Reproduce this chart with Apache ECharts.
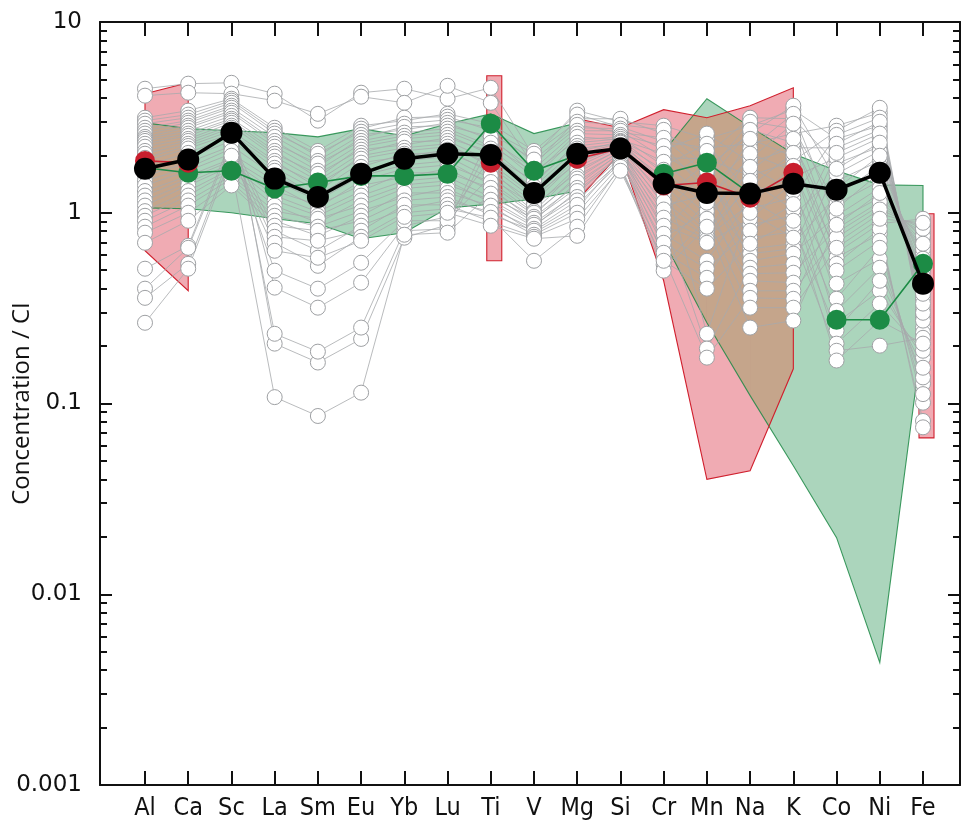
<!DOCTYPE html>
<html>
<head>
<meta charset="utf-8">
<script src="https://cdn.jsdelivr.net/npm/echarts@6/dist/echarts.min.js"></script>
<style>
html,body{margin:0;padding:0;background:#fff;}
#chart{width:961px;height:823px;}
</style>
</head>
<body>
<div id="chart"></div>
<script>
const elements = ['Al','Ca','Sc','La','Sm','Eu','Yb','Lu','Ti','V','Mg','Si','Cr','Mn','Na','K','Co','Ni','Fe'];
const yTickLabels = ['0.001','0.01','0.1','1','10'];

// Individual samples: values of each element, listed from highest to lowest
const valAl = [4.47,4.11,3.15,3.04,2.93,2.79,2.69,2.60,2.50,2.44,2.38,2.30,2.22,2.11,2.04,1.94,1.87,1.76,1.66,1.56,1.47,1.39,1.30,1.23,1.16,1.09,1.02,0.964,0.908,0.845,0.786,0.696,0.509,0.400,0.358,0.265];
const valCa = [4.75,4.26,3.43,3.27,3.15,3.04,2.96,2.86,2.79,2.69,2.60,2.53,2.44,2.38,2.30,2.24,2.17,2.06,1.94,1.83,1.72,1.66,1.56,1.51,1.44,1.39,1.30,1.23,1.16,1.09,1.00,0.908,0.671,0.655,0.540,0.509];
const valSc = [4.80,4.21,3.96,3.87,3.77,3.64,3.55,3.43,3.34,3.22,3.11,3.04,2.96,2.86,2.79,2.69,2.60,2.53,2.44,2.38,2.30,2.24,2.17,2.11,2.04,1.99,1.92,1.87,1.81,1.76,1.70,1.66,1.56,1.51,1.44,1.39];
const valLa = [4.21,3.87,2.79,2.69,2.60,2.50,2.38,2.30,2.22,2.11,2.04,1.97,1.87,1.81,1.72,1.66,1.56,1.47,1.39,1.30,1.23,1.16,1.09,1.02,0.964,0.908,0.855,0.805,0.748,0.696,0.632,0.497,0.405,0.232,0.206,0.108];
const valSm = [3.30,3.04,2.11,2.04,1.97,1.87,1.81,1.74,1.66,1.60,1.53,1.47,1.42,1.35,1.30,1.24,1.20,1.16,1.10,1.06,1.01,0.964,0.930,0.886,0.845,0.805,0.757,0.713,0.632,0.581,0.527,0.400,0.318,0.187,0.164,0.086];
const valEu = [4.26,4.06,2.86,2.76,2.66,2.56,2.47,2.38,2.30,2.22,2.14,2.06,1.99,1.92,1.83,1.74,1.66,1.56,1.47,1.39,1.30,1.23,1.16,1.09,1.02,0.964,0.908,0.855,0.805,0.748,0.713,0.547,0.430,0.250,0.218,0.114];
const valYb = [4.47,3.77,3.15,3.04,2.93,2.82,2.72,2.63,2.53,2.44,2.36,2.27,2.19,2.11,2.04,1.97,1.87,1.78,1.70,1.62,1.54,1.47,1.40,1.34,1.27,1.21,1.16,1.10,1.05,1.00,0.952,0.908,0.855,0.805,0.767,0.740];
const valLu = [4.63,3.96,3.30,3.19,3.07,2.96,2.86,2.76,2.66,2.56,2.47,2.38,2.30,2.22,2.14,2.06,1.97,1.87,1.78,1.70,1.62,1.54,1.47,1.40,1.34,1.27,1.21,1.16,1.10,1.05,1.00,0.952,0.908,0.865,0.824,0.786];
const valTi = [4.52,3.77,2.93,2.79,2.69,2.60,2.50,2.41,2.33,2.24,2.17,2.09,2.01,1.94,1.87,1.81,1.74,1.68,1.62,1.56,1.51,1.45,1.40,1.35,1.30,1.26,1.21,1.17,1.13,1.09,1.05,1.01,0.976,0.942,0.897,0.855];
const valV  = [2.11,2.04,1.97,1.90,1.83,1.76,1.70,1.64,1.58,1.53,1.47,1.42,1.37,1.32,1.27,1.23,1.18,1.14,1.10,1.06,1.02,1.00,0.976,0.952,0.930,0.908,0.886,0.865,0.845,0.824,0.805,0.786,0.767,0.748,0.731,0.560];
const valMg = [3.43,3.27,3.11,3.00,2.89,2.79,2.69,2.60,2.50,2.41,2.33,2.24,2.17,2.09,2.01,1.94,1.87,1.81,1.74,1.68,1.62,1.56,1.51,1.45,1.40,1.35,1.30,1.26,1.21,1.16,1.10,1.05,1.00,0.930,0.845,0.757];
const valSi = [3.11,3.00,2.89,2.82,2.76,2.69,2.63,2.56,2.50,2.44,2.41,2.38,2.36,2.33,2.30,2.27,2.24,2.22,2.19,2.17,2.14,2.11,2.09,2.06,2.04,2.01,1.99,1.97,1.94,1.92,1.87,1.83,1.78,1.74,1.70,1.66];
const valCr = [2.86,2.72,2.60,2.47,2.36,2.24,2.14,2.04,1.94,1.85,1.76,1.68,1.60,1.53,1.45,1.39,1.32,1.26,1.20,1.14,1.09,1.04,0.988,0.942,0.897,0.855,0.814,0.776,0.740,0.696,0.655,0.617,0.588,0.560,0.534,0.497];
const valMn = [2.60,2.44,2.30,2.19,2.11,2.01,1.92,1.83,1.74,1.66,1.58,1.51,1.44,1.37,1.30,1.24,1.18,1.13,1.08,1.02,0.976,0.930,0.886,0.845,0.805,0.776,0.748,0.722,0.696,0.560,0.509,0.456,0.400,0.232,0.194,0.174];
const valNa = [3.15,3.00,2.86,2.72,2.60,2.44,2.30,2.17,2.04,1.92,1.83,1.74,1.66,1.56,1.47,1.37,1.26,1.18,1.11,1.05,1.00,0.930,0.865,0.805,0.740,0.688,0.648,0.610,0.560,0.515,0.479,0.440,0.390,0.358,0.318,0.250];
const valK  = [3.64,3.47,3.30,3.11,2.93,2.76,2.60,2.44,2.33,2.19,2.06,1.97,1.87,1.76,1.66,1.54,1.44,1.30,1.20,1.11,1.04,0.964,0.908,0.855,0.795,0.740,0.688,0.648,0.610,0.540,0.485,0.430,0.390,0.354,0.318,0.272];
const valCo = [2.86,2.69,2.56,2.44,2.30,2.19,2.06,1.94,1.81,1.70,1.60,1.47,1.34,1.23,1.11,1.05,0.964,0.908,0.865,0.824,0.786,0.740,0.696,0.655,0.617,0.581,0.540,0.497,0.425,0.354,0.306,0.265,0.241,0.206,0.189,0.168];
const valNi = [3.55,3.34,3.15,3.00,2.86,2.72,2.60,2.47,2.33,2.22,2.11,1.99,1.87,1.76,1.62,1.47,1.35,1.27,1.20,1.14,1.09,1.04,0.988,0.930,0.876,0.824,0.776,0.713,0.655,0.574,0.515,0.440,0.390,0.334,0.272,0.201];
const valFe = [0.930,0.886,0.855,0.824,0.786,0.757,0.731,0.688,0.648,0.610,0.574,0.540,0.497,0.462,0.430,0.400,0.376,0.354,0.334,0.314,0.299,0.285,0.272,0.250,0.235,0.221,0.206,0.189,0.174,0.154,0.137,0.127,0.112,0.101,0.081,0.075];

// which sample holds each of the values above (same order)
const ordAl = [0,1,2,3,4,5,6,7,8,9,10,11,12,13,14,15,16,17,18,19,20,21,22,23,24,25,26,27,28,29,30,31,32,33,34,35];
const ordCa = [0,1,2,3,4,5,6,7,8,9,10,11,12,13,14,15,16,17,18,19,20,21,22,23,24,25,26,27,28,29,30,31,32,33,34,35];
const ordSc = [0,1,2,3,4,5,6,7,8,9,10,11,12,13,14,15,16,17,32,18,33,19,20,34,21,35,22,23,24,25,26,27,28,29,30,31];
const ordLa = [0,1,2,3,4,6,7,8,10,11,12,13,15,16,17,18,19,21,22,23,24,25,27,28,29,30,31,32,33,34,35,20,14,9,5,26];
const ordSm = [1,0,2,4,3,6,8,7,10,12,11,13,16,15,17,19,18,21,23,22,24,25,28,27,29,31,30,33,32,35,34,20,14,9,5,26];
const ordEu = [0,1,2,3,4,6,7,8,10,11,12,13,15,16,17,18,19,21,22,23,24,25,27,28,29,30,31,32,33,34,35,20,14,9,5,26];
const ordYb = [0,1,3,2,4,7,6,8,10,11,13,12,15,16,18,17,19,21,22,24,23,25,27,28,30,29,31,33,32,34,35,20,14,9,26,5];
const ordLu = [1,0,2,3,4,6,7,8,10,11,12,13,15,16,17,18,19,21,22,23,24,25,27,28,29,30,31,32,33,34,35,14,20,5,9,26];
const ordTi = [0,1,2,4,3,5,7,6,9,8,10,12,11,14,13,16,15,18,17,20,19,22,21,24,23,26,25,28,27,30,29,32,31,34,33,35];
const ordV  = [2,3,0,5,4,1,6,8,7,9,11,10,13,12,14,16,15,17,19,18,20,22,21,23,25,24,26,28,27,29,31,30,32,33,35,34];
const ordMg = [0,2,1,3,5,4,6,7,9,8,10,11,13,12,14,15,17,16,18,20,19,21,22,24,23,25,27,26,28,29,31,30,32,33,34,35];
const ordSi = [1,0,3,2,4,6,5,7,8,10,9,11,12,14,13,15,16,18,17,19,20,22,21,23,24,26,25,27,28,30,29,31,32,34,33,35];
const ordCr = [0,3,1,5,2,7,4,9,6,11,8,13,10,15,12,17,14,19,16,21,18,23,20,25,22,27,24,29,26,31,28,33,30,35,32,34];
const ordMn = [4,0,8,2,12,1,6,16,3,20,5,14,9,24,7,18,11,28,13,26,15,32,17,34,19,21,23,25,27,29,31,33,35,10,22,30];
const ordNa = [1,5,0,9,3,13,2,7,17,11,4,21,15,6,25,19,8,29,23,10,33,27,12,31,14,35,16,18,20,22,24,26,28,30,32,34];
const ordK  = [3,0,7,1,11,5,2,15,9,4,19,13,6,23,17,8,27,21,10,31,25,12,35,29,14,33,16,18,20,22,24,26,28,30,32,34];
const ordCo = [2,6,10,0,14,4,18,8,1,22,12,3,26,16,5,30,20,7,34,24,9,28,11,32,13,15,17,19,21,23,25,27,29,31,33,35];
const ordNi = [6,2,10,14,0,4,18,8,22,1,12,26,3,16,30,5,20,34,7,24,9,28,11,32,13,17,15,19,23,21,25,29,27,31,35,33];
const ordFe = [13,32,11,28,9,24,7,34,20,5,30,16,3,26,12,1,22,8,18,4,14,0,10,2,6,33,35,31,27,29,25,21,23,19,15,17];

// Group averages
const meanAll   = [1.70,1.90,2.63,1.51,1.21,1.60,1.92,2.04,2.01,1.27,2.04,2.17,1.42,1.27,1.26,1.42,1.32,1.62,0.425];
const meanRed   = [1.87,1.83,null,null,null,null,null,null,1.83,null,1.92,2.17,1.39,1.44,1.20,1.62,null,null,0.43];
const meanGreen = [1.72,1.62,1.66,1.34,1.44,1.56,1.56,1.60,2.93,1.66,2.00,null,1.60,1.83,1.26,null,0.275,0.275,0.54];

// Group ranges (upper / lower envelopes)
const redHi   = [4.21,4.80,null,null,null,null,null,null,5.23,null,3.11,2.79,3.47,3.15,3.64,4.52,null,null,0.988];
const redLo   = [0.632,0.390,null,null,null,null,null,null,0.560,null,1.16,2.06,0.44,0.040,0.0444,0.152,null,null,0.066];
const greenHi = [2.96,2.76,2.69,2.63,2.50,2.76,2.53,2.93,3.30,2.60,2.96,null,2.09,3.96,2.82,2.04,1.66,1.40,1.39];
const greenLo = [1.06,1.05,1.00,0.930,0.876,0.731,0.786,1.06,1.11,1.18,1.30,null,0.713,0.265,0.110,0.0472,0.0198,0.00438,0.235];

// ---- build sample table from the columns ----
const columns = [
  [valAl,ordAl],[valCa,ordCa],[valSc,ordSc],[valLa,ordLa],[valSm,ordSm],[valEu,ordEu],[valYb,ordYb],
  [valLu,ordLu],[valTi,ordTi],[valV,ordV],[valMg,ordMg],[valSi,ordSi],[valCr,ordCr],[valMn,ordMn],
  [valNa,ordNa],[valK,ordK],[valCo,ordCo],[valNi,ordNi],[valFe,ordFe]
];
const nSamples = valAl.length;
const samples = [];
for (let s = 0; s < nSamples; s++) samples.push(new Array(elements.length).fill(null));
columns.forEach(([vals, ord], e) => {
  vals.forEach((v, r) => { samples[ord[r]][e] = v; });
});

function toXY(arr) { return arr.map((v, i) => [i, v]); }
const has = (u, l, i) => u[i] != null && l[i] != null;

// polygons of one range band (filled, or outline only)
function bandShapes(api, upper, lower, fill, stroke) {
  const out = [];
  let seg = [];
  const flush = () => {
    if (!seg.length) return;
    let pts;
    if (seg.length === 1) {
      const i = seg[0];
      const pu = api.coord([i, upper[i]]);
      const pl = api.coord([i, lower[i]]);
      pts = [[pu[0] - 4, pu[1]], [pu[0] + 11, pu[1]], [pl[0] + 11, pl[1]], [pl[0] - 4, pl[1]]];
    } else {
      pts = seg.map(i => api.coord([i, upper[i]]))
        .concat(seg.slice().reverse().map(i => api.coord([i, lower[i]])));
    }
    out.push({ type: 'polygon', shape: { points: pts },
      style: { fill: fill || 'none', stroke: stroke || 'none', lineWidth: 1.1 } });
    seg = [];
  };
  for (let i = 0; i < upper.length; i++) { if (!has(upper, lower, i)) flush(); else seg.push(i); }
  flush();
  return out;
}

// region where both bands overlap (drawn in one solid tint)
function overlapShapes(api, fill) {
  const out = [];
  const lerp = (a, b, t) => a + (b - a) * t;
  for (let i = 0; i < elements.length - 1; i++) {
    if (!(has(redHi, redLo, i) && has(redHi, redLo, i + 1) && has(greenHi, greenLo, i) && has(greenHi, greenLo, i + 1))) continue;
    const rU0 = api.coord([i, redHi[i]]), rU1 = api.coord([i + 1, redHi[i + 1]]);
    const rL0 = api.coord([i, redLo[i]]), rL1 = api.coord([i + 1, redLo[i + 1]]);
    const gU0 = api.coord([i, greenHi[i]]), gU1 = api.coord([i + 1, greenHi[i + 1]]);
    const gL0 = api.coord([i, greenLo[i]]), gL1 = api.coord([i + 1, greenLo[i + 1]]);
    const N = 60, top = [], bot = [];
    for (let k = 0; k <= N; k++) {
      const t = k / N;
      const x = lerp(rU0[0], rU1[0], t);
      const yt = Math.max(lerp(rU0[1], rU1[1], t), lerp(gU0[1], gU1[1], t));
      let yb = Math.min(lerp(rL0[1], rL1[1], t), lerp(gL0[1], gL1[1], t));
      if (yb < yt) yb = yt;
      top.push([x, yt]); bot.push([x, yb]);
    }
    out.push({ type: 'polygon', shape: { points: top.concat(bot.reverse()) }, style: { fill: fill, stroke: 'none' } });
  }
  return out;
}

function bandsRenderer(params, api) {
  const children = []
    .concat(bandShapes(api, greenHi, greenLo, 'rgba(35,145,80,0.38)', null))
    .concat(bandShapes(api, redHi, redLo, 'rgba(215,35,55,0.38)', null))
    .concat(overlapShapes(api, '#c5a58b'))
    .concat(bandShapes(api, greenHi, greenLo, null, 'rgba(31,138,71,0.85)'))
    .concat(bandShapes(api, redHi, redLo, null, '#d0202e'));
  return { type: 'group', children: children };
}

// minor log ticks (2..9 in each decade), expressed in log10 units for the helper axes
const minorTicks = [];
for (let e = -3; e <= 0; e++) for (let k = 2; k <= 9; k++) minorTicks.push(e + Math.log10(k));
const catTicks = elements.map((_, i) => i);

const XMIN = -1.041, XMAX = 18.856;
const axisColor = '#111';
const textFont = '"Liberation Sans Narrow", "DejaVu Sans Condensed", "Open Sans", sans-serif';

const series = [];
series.push({
  type: 'custom', z: 1, silent: true, clip: false,
  renderItem: bandsRenderer,
  data: [[0, 1]]
});
samples.forEach((s) => {
  series.push({
    type: 'line', z: 2, silent: true, symbol: 'none',
    lineStyle: { color: '#a7a9ac', width: 0.8 },
    data: toXY(s)
  });
});
const allPts = [];
samples.forEach(s => s.forEach((v, i) => { if (v != null) allPts.push([i, v]); }));
series.push({
  type: 'scatter', z: 3, silent: true, symbol: 'circle', symbolSize: 15,
  itemStyle: { color: '#ffffff', borderColor: '#9ea0a3', borderWidth: 1, opacity: 1 },
  data: allPts
});
series.push({
  type: 'line', z: 4, silent: true, symbol: 'circle', symbolSize: 20, connectNulls: false,
  lineStyle: { color: '#1c8b45', width: 1.6 }, itemStyle: { color: '#1c8b45' },
  data: toXY(meanGreen)
});
series.push({
  type: 'line', z: 5, silent: true, symbol: 'circle', symbolSize: 20, connectNulls: false,
  lineStyle: { color: '#c81e2d', width: 1.6 }, itemStyle: { color: '#c81e2d' },
  data: toXY(meanRed)
});
series.push({
  type: 'line', z: 6, silent: true, symbol: 'circle', symbolSize: 22,
  lineStyle: { color: '#000', width: 3.5 }, itemStyle: { color: '#000' },
  data: toXY(meanAll)
});

const xBase = {
  type: 'value', min: XMIN, max: XMAX,
  splitLine: { show: false },
  axisLine: { show: true, onZero: false, lineStyle: { color: axisColor, width: 2 } },
  axisTick: { show: true, inside: true, length: 14, customValues: catTicks, lineStyle: { color: axisColor, width: 2 } }
};

const option = {
  backgroundColor: '#ffffff',
  animation: false,
  grid: { left: 100, right: 1, top: 22, bottom: 38, containLabel: false, outerBoundsMode: 'none' },
  xAxis: [
    Object.assign({}, xBase, {
      position: 'bottom',
      axisLabel: {
        show: true, customValues: catTicks, margin: 11,
        formatter: v => elements[Math.round(v)],
        fontSize: 25, color: '#111', fontFamily: textFont
      }
    }),
    Object.assign({}, xBase, { position: 'top', axisLabel: { show: false } })
  ],
  yAxis: [
    {
      type: 'log', logBase: 10, min: 0.001, max: 10, position: 'left',
      name: 'Concentration / CI', nameLocation: 'middle', nameGap: 66, nameMoveOverlap: false,
      nameTextStyle: { fontSize: 24, color: '#111', fontFamily: '"Open Sans", "Noto Sans", sans-serif' },
      splitLine: { show: false },
      axisLine: { show: true, onZero: false, lineStyle: { color: axisColor, width: 2 } },
      axisTick: { show: true, inside: true, length: 12, lineStyle: { color: axisColor, width: 2 } },
      axisLabel: {
        margin: 18, fontSize: 23, color: '#111', fontFamily: '"DejaVu Sans", sans-serif',
        formatter: v => yTickLabels[Math.round(Math.log10(v)) + 3]
      }
    },
    {
      type: 'value', min: -3, max: 1, position: 'left',
      splitLine: { show: false }, axisLabel: { show: false },
      axisLine: { show: false, onZero: false },
      axisTick: { show: true, inside: true, length: 7, customValues: minorTicks, lineStyle: { color: axisColor, width: 2 } }
    },
    {
      type: 'log', logBase: 10, min: 0.001, max: 10, position: 'right',
      splitLine: { show: false }, axisLabel: { show: false },
      axisLine: { show: true, onZero: false, lineStyle: { color: axisColor, width: 2 } },
      axisTick: { show: true, inside: true, length: 12, lineStyle: { color: axisColor, width: 2 } }
    },
    {
      type: 'value', min: -3, max: 1, position: 'right',
      splitLine: { show: false }, axisLabel: { show: false },
      axisLine: { show: false, onZero: false },
      axisTick: { show: true, inside: true, length: 7, customValues: minorTicks, lineStyle: { color: axisColor, width: 2 } }
    }
  ],
  series: series
};

const chart = echarts.init(document.getElementById('chart'), null, { renderer: 'canvas' });
chart.setOption(option);
</script>
</body>
</html>
